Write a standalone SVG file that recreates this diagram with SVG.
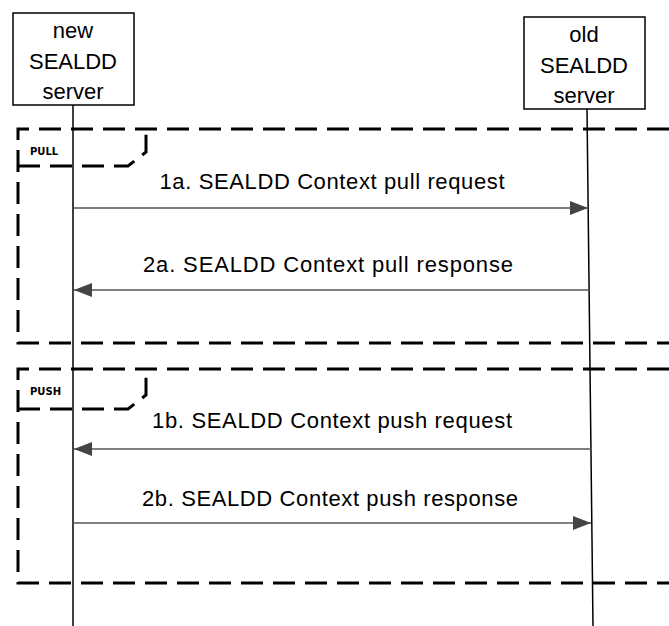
<svg xmlns="http://www.w3.org/2000/svg" width="669" height="626" viewBox="0 0 669 626">
<style>
.box{fill:#fff;stroke:#000;stroke-width:1.5}
.life{stroke:#000;stroke-width:1.5;fill:none}
.frame{fill:none;stroke:#000;stroke-width:3;stroke-dasharray:22 10}
.lbl{font-family:"Liberation Sans",Arial,sans-serif;font-size:22px;fill:#000;text-anchor:middle}
.msg{font-family:"Liberation Sans",Arial,sans-serif;font-size:22px;fill:#000;text-anchor:middle}
.tag{font-family:"DejaVu Sans",sans-serif;font-size:10px;font-weight:bold;fill:#000}
.arr{stroke:#555;stroke-width:1.5;fill:none;marker-end:url(#ah)}
</style>
<defs>
<marker id="ah" markerWidth="18" markerHeight="14" refX="18" refY="7" orient="auto" markerUnits="userSpaceOnUse">
<path d="M0,0 L18,7 L0,14 Z" fill="#444"/>
</marker>
</defs>
<rect width="669" height="626" fill="#fff"/>
<g id="frames">
<path class="frame" d="M669,129 H18 V343 H669"/>
<path class="frame" d="M18,166 H128 L146,152 V129"/>
<path class="frame" d="M669,369 H18 V583 H669"/>
<path class="frame" d="M18,409 H128 L146,395 V369"/>
<text class="tag" x="30" y="155">PULL</text>
<text class="tag" x="30" y="395">PUSH</text>
</g>
<g id="lifelines">
<line class="life" x1="73" y1="105" x2="73" y2="626"/>
<line class="life" x1="587" y1="109" x2="593" y2="626"/>
</g>
<g id="new-server">
<rect class="box" x="13" y="13" width="121" height="92"/>
<text class="lbl" x="73" y="38">new</text>
<text class="lbl" x="73" y="69">SEALDD</text>
<text class="lbl" x="73" y="99">server</text>
</g>
<g id="old-server">
<rect class="box" x="524" y="17" width="121" height="92"/>
<text class="lbl" x="584" y="42">old</text>
<text class="lbl" x="584" y="73">SEALDD</text>
<text class="lbl" x="584" y="103">server</text>
</g>
<g id="connectors">
<line class="arr" x1="73" y1="208" x2="588" y2="208"/>
<line class="arr" x1="590" y1="290" x2="74" y2="290"/>
<line class="arr" x1="591" y1="449" x2="74" y2="449"/>
<line class="arr" x1="73" y1="523" x2="591" y2="523"/>
<text class="msg" x="332" y="189" textLength="345" lengthAdjust="spacing">1a. SEALDD Context pull request</text>
<text class="msg" x="328" y="272" textLength="370" lengthAdjust="spacing">2a. SEALDD Context pull response</text>
<text class="msg" x="332" y="428" textLength="360" lengthAdjust="spacing">1b. SEALDD Context push request</text>
<text class="msg" x="330" y="506" textLength="376" lengthAdjust="spacing">2b. SEALDD Context push response</text>
</g>
</svg>
